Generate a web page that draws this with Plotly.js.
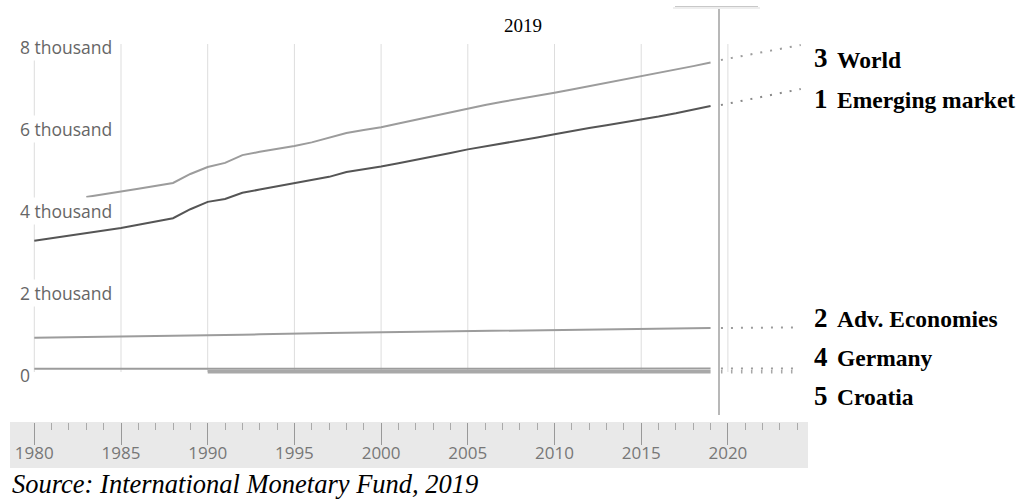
<!DOCTYPE html>
<html>
<head>
<meta charset="utf-8">
<script src="https://cdn.plot.ly/plotly-3.0.1.min.js"></script>
<style>html,body{margin:0;padding:0;background:#fff;}#chart{width:1029px;height:499px;}</style>
</head>
<body>
<div id="chart"></div>
<script>
// ---- data (population, millions) ----
const years = [1980,1981,1982,1983,1984,1985,1986,1987,1988,1989,1990,1991,1992,1993,1994,1995,1996,1997,1998,1999,2000,2001,2002,2003,2004,2005,2006,2007,2008,2009,2010,2011,2012,2013,2014,2015,2016,2017,2018,2019];
const worldYears = years.slice(3);
const world = [4270,4330,4400,4470,4540,4610,4830,5000,5100,5290,5370,5440,5510,5600,5710,5830,5900,5970,6060,6150,6240,6340,6430,6510,6590,6660,6740,6810,6890,6970,7050,7130,7210,7290,7380,7460,7550];
const emerging = [3200,3260,3320,3380,3440,3510,3590,3670,3750,3970,4150,4220,4370,4450,4530,4600,4680,4760,4880,4940,5010,5090,5170,5260,5340,5430,5500,5580,5650,5720,5800,5880,5950,6020,6090,6150,6230,6310,6400,6490];
const advanced = [837,842,846,851,856,861,866,871,876,880,885,895,906,918,930,943,948,953,958,964,970,975,981,986,992,997,1002,1008,1013,1019,1024,1030,1035,1040,1046,1051,1057,1062,1068,1073];
const germany = [78.3,78.4,78.3,78.0,77.7,77.7,77.7,77.7,78.0,78.6,79.4,80.0,80.6,81.2,81.4,81.7,81.9,82.0,82.0,82.0,82.2,82.3,82.5,82.5,82.5,82.5,82.4,82.3,82.1,81.9,81.8,80.3,80.5,80.8,81.2,81.7,82.3,82.7,82.9,83.1];
const croatiaYears = years.slice(10);
const croatia = [4.78,4.51,4.47,4.64,4.65,4.67,4.49,4.57,4.50,4.55,4.43,4.30,4.30,4.30,4.30,4.30,4.30,4.30,4.31,4.31,4.30,4.28,4.27,4.26,4.24,4.20,4.17,4.13,4.09,4.07];

// projection (dotted) segments
const projYears = [2019.6, 2024.2];
const worldProj = [7610, 7976];
const emergingProj = [6512, 6902];
const advancedProj = [1073, 1090];
const germanyProj = [83.1, 84.0];
const croatiaProj = [4.07, 3.95];

// ticks and labels
const majorTicks = [1980,1985,1990,1995,2000,2005,2010,2015,2020];
const majorTickText = ['1980','1985','1990','1995','2000','2005','2010','2015','2020'];
const minorTicks = [1981,1982,1983,1984,1986,1987,1988,1989,1991,1992,1993,1994,1996,1997,1998,1999,2001,2002,2003,2004,2006,2007,2008,2009,2011,2012,2013,2014,2016,2017,2018,2019,2021,2022,2023,2024];
const yTickVals = [0,2000,4000,6000,8000];
const yTickText = ['0','2 thousand','4 thousand','6 thousand','8 thousand'];
const seriesLabels = [
  {rank:'3', name:'World', baseline:68},
  {rank:'1', name:'Emerging market', baseline:108},
  {rank:'2', name:'Adv. Economies', baseline:327},
  {rank:'4', name:'Germany', baseline:366},
  {rank:'5', name:'Croatia', baseline:405}
];
const topLabel = '2019';
const sourceText = 'Source: International Monetary Fund, 2019';

// ---- layout helpers ----
const W = 1029, H = 499;
const px = x => x / W;
const py = y => 1 - y / H;
const x0pix = 34.3, pxPerYear = 17.34;
const y0pix = 372, pxPerMillion = 0.041;
const xRange = [1980 - x0pix / pxPerYear, 1980 + (W - x0pix) / pxPerYear];
const yRange = [-(H - y0pix) / pxPerMillion, y0pix / pxPerMillion];

const light = '#9c9c9c', dark = '#555555';
function solid(x, y, color, width) {
  return {x, y, type:'scatter', mode:'lines', line:{color, width, shape:'linear'}, hoverinfo:'skip', showlegend:false};
}
function dotted(x, y, color, width, dash) {
  return {x, y, type:'scatter', mode:'lines', line:{color, width, dash}, hoverinfo:'skip', showlegend:false};
}

const traces = [
  solid(croatiaYears, croatia, '#a8a8a8', 3.5),
  solid(years, germany, light, 2),
  solid(years, advanced, light, 2),
  solid(worldYears, world, light, 2),
  solid(years, emerging, dark, 2),
  dotted(projYears, croatiaProj, '#a8a8a8', 3.5, '1.5px,8.5px'),
  dotted(projYears, germanyProj, light, 2, '2px,8px'),
  dotted(projYears, advancedProj, light, 2, '2px,8px'),
  dotted(projYears, worldProj, light, 2, '2px,8px'),
  dotted(projYears, emergingProj, '#888', 2, '2px,8px')
];

const shapes = [];
// axis band
shapes.push({type:'rect', xref:'paper', yref:'paper', x0:px(10), x1:px(808), y0:py(468), y1:py(422), fillcolor:'#e9e9e9', line:{width:0}, layer:'below'});
// vertical gridlines
majorTicks.forEach(v => shapes.push({type:'line', xref:'x', yref:'y', x0:v, x1:v, y0:0, y1:8000, line:{color:'#dddddd', width:1}, layer:'below'}));
// hover cursor line and its box edge
shapes.push({type:'line', xref:'paper', yref:'paper', x0:px(719), x1:px(719), y0:py(7), y1:py(415), line:{color:'#a0a0a0', width:1.5}});
shapes.push({type:'line', xref:'paper', yref:'paper', x0:px(673), x1:px(760), y0:py(8), y1:py(8), line:{color:'#eeeeee', width:2}});
shapes.push({type:'line', xref:'paper', yref:'paper', x0:px(675), x1:px(758), y0:py(6.5), y1:py(6.5), line:{color:'#c8c8c8', width:1}});

const annotations = [];
// y labels with white background
yTickVals.forEach((v, i) => annotations.push({
  xref:'paper', yref:'y', x:px(18), y:v, xanchor:'left', yanchor:'middle', yshift:-3,
  text:yTickText[i], showarrow:false, bgcolor:'#ffffff', borderpad:1,
  font:{family:'Open Sans, sans-serif', size:17.5, color:'#666666'}
}));
// right labels
seriesLabels.forEach(s => {
  annotations.push({xref:'paper', yref:'paper', x:px(812), y:py(s.baseline - 9.5), xanchor:'left', yanchor:'middle',
    text:'<b>' + s.rank + '</b>', showarrow:false, font:{family:'Liberation Serif, Times New Roman, serif', size:27, color:'#000'}});
  annotations.push({xref:'paper', yref:'paper', x:px(835), y:py(s.baseline - 8), xanchor:'left', yanchor:'middle',
    text:'<b>' + s.name + '</b>', showarrow:false, font:{family:'Liberation Serif, Times New Roman, serif', size:23.5, color:'#000'}});
});
annotations.push({xref:'paper', yref:'paper', x:px(523), y:py(25), xanchor:'center', yanchor:'middle', text:topLabel, showarrow:false,
  font:{family:'Liberation Serif, Times New Roman, serif', size:19, color:'#000'}});
annotations.push({xref:'paper', yref:'paper', x:px(10), y:py(484), xanchor:'left', yanchor:'middle', text:'<i>' + sourceText + '</i>', showarrow:false,
  font:{family:'Liberation Serif, Times New Roman, serif', size:26.5, color:'#000'}});

const layout = {
  width:W, height:H,
  margin:{l:0, r:0, t:0, b:0, pad:0},
  paper_bgcolor:'#ffffff', plot_bgcolor:'rgba(0,0,0,0)',
  showlegend:false,
  xaxis:{
    range:xRange, anchor:'free', position:py(422), side:'bottom',
    showgrid:false, zeroline:false, showline:false,
    tickmode:'array', tickvals:majorTicks, ticktext:majorTickText,
    ticks:'outside', ticklen:22, tickwidth:1, tickcolor:'#999999',
    ticklabelstandoff:-6,
    tickfont:{family:'Open Sans, sans-serif', size:17, color:'#777777'},
    minor:{tickmode:'array', tickvals:minorTicks, ticks:'outside', ticklen:7, tickwidth:1, tickcolor:'#aaaaaa', showgrid:false},
    fixedrange:true
  },
  yaxis:{range:yRange, visible:false, showgrid:false, zeroline:false, fixedrange:true},
  shapes, annotations
};

Plotly.newPlot('chart', traces, layout, {staticPlot:true, displayModeBar:false});
</script>
</body>
</html>
